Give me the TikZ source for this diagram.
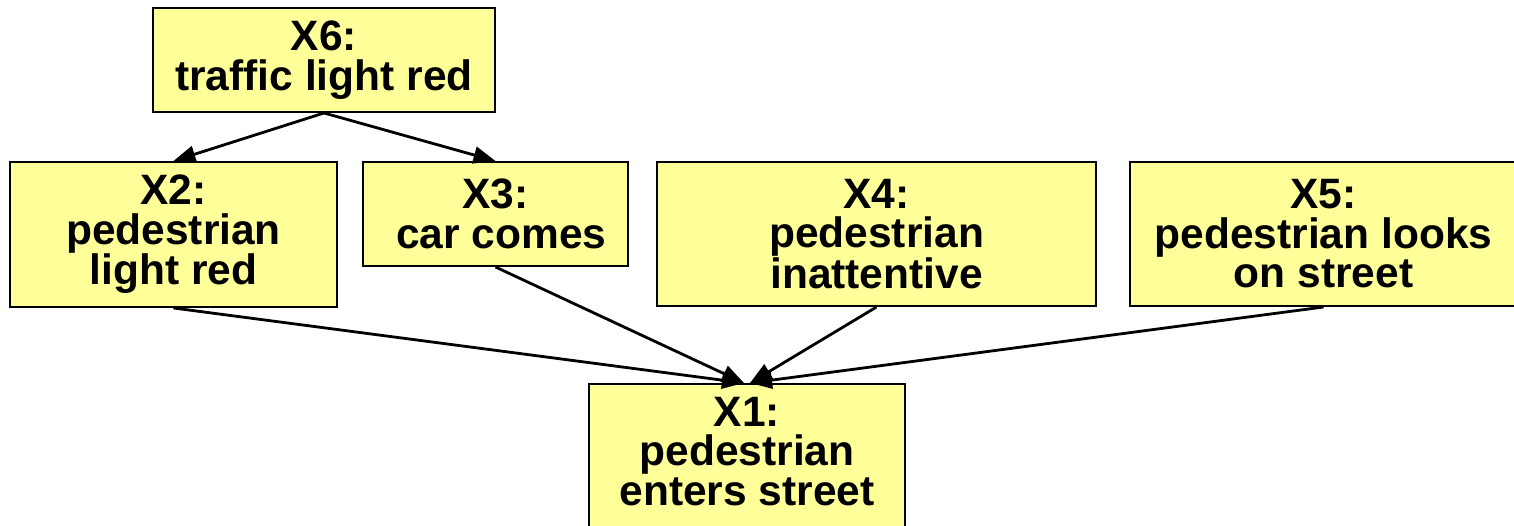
\documentclass[tikz,border=0pt]{standalone}
\usepackage{fontspec}
\setmainfont{Liberation Sans}
\usetikzlibrary{arrows.meta,calc}
\definecolor{boxfill}{RGB}{255,255,153}
\tikzset{
  box/.style={draw=black, fill=boxfill, line width=2pt, inner sep=0pt, align=center,
    font=\fontsize{42.5}{39.5}\selectfont\bfseries},
  lbl/.style={inner sep=0pt, align=center, font=\fontsize{42.5}{39.5}\selectfont\bfseries},
  conn/.style={line width=2.8pt, -{Triangle[length=22pt,width=17pt]}}
}
\begin{document}
\begin{tikzpicture}[x=1pt,y=-1pt]
\useasboundingbox (0,0) rectangle (1514,526);
\node[box, minimum width=342pt, minimum height=104pt] (X6) at (324,60) {X6:\\traffic light red};
\node[box, minimum width=327pt, minimum height=145pt] (X2) at (173.5,234.5) {X2:\\pedestrian\\light red};
\node[box, minimum width=265pt, minimum height=104pt] (X3) at (495.5,214) {X3:\\\hspace*{0.278em}car comes};
\node[box, minimum width=439pt, minimum height=144pt] (X4) at (876.5,234) {X4:\\pedestrian\\inattentive};
\node[box, minimum width=387pt, minimum height=144pt] (X5) at (1323.5,234) {X5:\\pedestrian looks\\on street};
\node[box, minimum width=316pt, minimum height=180pt, anchor=north] (X1) at (747,383) {};
\node[lbl, anchor=north] (X1t) at (747,397) {X1:\\pedestrian\\enters street};
\coordinate (X1l) at ($(X1.north)+(-3,0)$);
\coordinate (X1r) at ($(X1.north)+(3,0)$);
\draw[conn] (X6.south) -- (X2.north);
\draw[conn] (X6.south) -- (X3.north);
\draw[conn] (X2.south) -- (X1l);
\draw[conn] (X3.south) -- (X1l);
\draw[conn] (X4.south) -- (X1r);
\draw[conn] (X5.south) -- (X1r);
\end{tikzpicture}
\end{document}
